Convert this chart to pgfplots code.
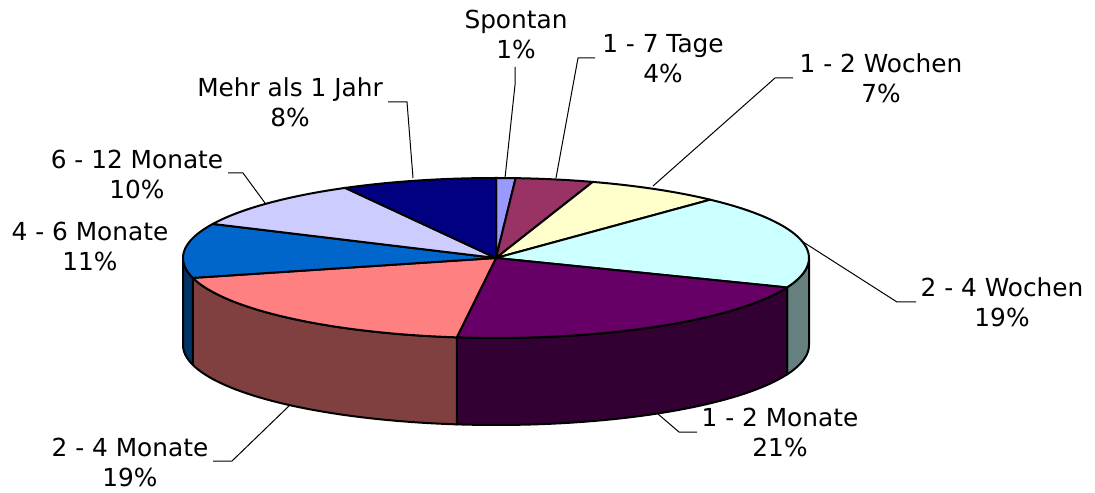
\documentclass[border=0pt]{standalone}
\usepackage{pgfplots}
\usepackage{pgfplotstable}
\pgfplotsset{compat=1.18}
\usepackage{fontspec}
\setmainfont{DejaVu Sans}

% share (percent), top colour, side colour
\pgfplotstableread{
value top side
1 9999FF 4D4D80
4 993366 4D1A33
7 FFFFCC 808066
19 CCFFFF 668080
21 660066 330033
19 FF8080 804040
11 0066CC 003366
10 CCCCFF 666680
8 000080 000040
}\piedata

\def\cum{0}
\pgfplotsforeachungrouped \i in {0,...,8}{%
  \pgfplotstablegetelem{\i}{value}\of\piedata
  \pgfmathsetmacro{\sa}{\cum*3.6}%
  \pgfmathsetmacro{\cum}{\cum+\pgfplotsretval}%
  \pgfmathsetmacro{\ea}{\cum*3.6}%
  \pgfmathsetmacro{\vs}{max(\sa,90)}%
  \pgfmathsetmacro{\ve}{min(\ea,270)}%
  \pgfmathtruncatemacro{\has}{\ve>\vs}%
  \expandafter\xdef\csname sA\i\endcsname{\sa}%
  \expandafter\xdef\csname eA\i\endcsname{\ea}%
  \expandafter\xdef\csname vS\i\endcsname{\vs}%
  \expandafter\xdef\csname vE\i\endcsname{\ve}%
  \expandafter\xdef\csname hS\i\endcsname{\has}%
  \pgfplotstablegetelem{\i}{top}\of\piedata
  \edef\tmp{\noexpand\definecolor{top\i}{HTML}{\pgfplotsretval}}\tmp
  \pgfplotstablegetelem{\i}{side}\of\piedata
  \edef\tmp{\noexpand\definecolor{side\i}{HTML}{\pgfplotsretval}}\tmp
}

\newcommand\lblfont{\fontsize{12.4}{15}\selectfont}
\newcommand\lbl[5]{%
  \node[anchor=base,inner sep=0pt,font=\lblfont] at (#1,#2) {#4};
  \node[anchor=base,inner sep=0pt,font=\lblfont] at (#1,#3) {#5};}

\begin{document}
\begin{tikzpicture}
\begin{axis}[
  scale only axis, width=547.5pt, height=246pt,
  xmin=0, xmax=1095, ymin=0, ymax=492,
  hide axis, clip=false]
\path (axis cs:0,0) rectangle (axis cs:1095,492);
% leader lines
\draw[line width=0.5pt] (515,425) -- (515,407) -- (505,314);
\draw[line width=0.5pt] (595,434) -- (578,434) -- (556,314);
\draw[line width=0.5pt] (793,414) -- (775,414) -- (653,306);
\draw[line width=0.5pt] (800,252) -- (897,190) -- (916,190);
\draw[line width=0.5pt] (697,60) -- (679,60) -- (658,78);
\draw[line width=0.5pt] (213,31) -- (232,31) -- (290,87);
\draw[line width=0.5pt] (228,319) -- (243,319) -- (265,289);
\draw[line width=0.5pt] (388,390) -- (407,390) -- (413,314);
% side walls
\pgfplotsinvokeforeach{0,...,8}{
  \ifnum\csname hS#1\endcsname=1
  \fill[side#1, draw=black, line width=1pt, line join=round]
    plot[domain=\csname vS#1\endcsname:\csname vE#1\endcsname, samples=40] ({496+313*sin(\x)},{234+80*cos(\x)})
    -- plot[domain=\csname vE#1\endcsname:\csname vS#1\endcsname, samples=40] ({496+313*sin(\x)},{147+80*cos(\x)})
    -- cycle;
  \fi
}
% top faces
\pgfplotsinvokeforeach{0,...,8}{
  \fill[top#1, draw=black, line width=1pt, line join=round]
    (496,234) -- plot[domain=\csname sA#1\endcsname:\csname eA#1\endcsname, samples=40] ({496+313*sin(\x)},{234+80*cos(\x)}) -- cycle;
}
% labels
\lbl{516}{463}{433}{Spontan}{1\%}
\lbl{663}{439}{409}{1 - 7 Tage}{4\%}
\lbl{881}{419}{389}{1 - 2 Wochen}{7\%}
\lbl{1002}{195}{165}{2 - 4 Wochen}{19\%}
\lbl{780}{66}{36}{1 - 2 Monate}{21\%}
\lbl{130}{36}{6}{2 - 4 Monate}{19\%}
\lbl{90}{251}{221}{4 - 6 Monate}{11\%}
\lbl{137}{323}{293}{6 - 12 Monate}{10\%}
\lbl{290}{395}{365}{Mehr als 1 Jahr}{8\%}
\end{axis}
\end{tikzpicture}
\end{document}
